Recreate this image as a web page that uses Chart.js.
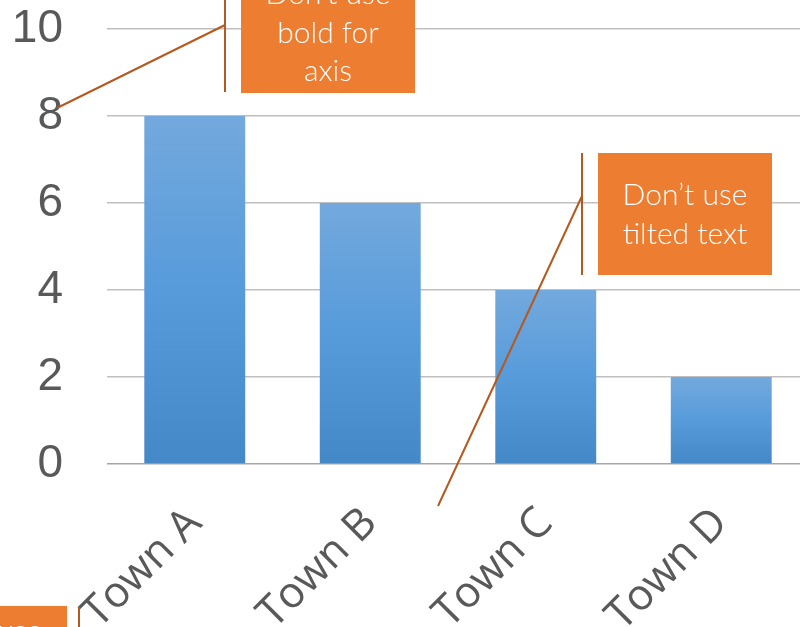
<!DOCTYPE html>
<html>
<head>
<meta charset="utf-8">
<script src="https://cdn.jsdelivr.net/npm/chart.js@4/dist/chart.umd.min.js"></script>
<style>
  html, body { margin: 0; padding: 0; overflow: hidden; background: #fff; width: 800px; height: 627px; }
  #wrap { position: absolute; left: 0; top: -60px; width: 830px; height: 760px; }
</style>
</head>
<body>
<div id="wrap"><canvas id="c" width="830" height="760"></canvas></div>
<script>
// Town values
const towns = ['Town A', 'Town B', 'Town C', 'Town D'];
const values = [8, 6, 4, 2];
const yTicks = [0, 2, 4, 6, 8, 10];

// Callout notes (canvas shifted up by SHIFT so page y = canvas y - SHIFT)
const SHIFT = 60;
const notes = [
  { lines: ['Don\u2019t use', 'bold for', 'axis'], box: [241, -40, 415, 93], baseline: 4,
    bar: [225, -40, 225, 92], leader: [225, 25, 57, 108] },
  { lines: ['Don\u2019t use', 'tilted text'], box: [598, 153, 772, 275], baseline: 205,
    bar: [582, 153, 582, 275], leader: [582, 196, 438, 506] },
  { lines: ['Don\u2019t use', 'lines'], box: [-107, 606, 67, 728], baseline: 641,
    bar: [79, 607, 79, 728], leader: null }
];

const NOTE_FONT = '300 30px Lato, "Open Sans", sans-serif';
const AXIS_FONT = '"Liberation Sans", Arial, sans-serif';
const CAT_FONT = '"Open Sans", "Liberation Sans", sans-serif';

function barGradient(ctx) {
  const chart = ctx.chart;
  if (!chart.chartArea || ctx.dataIndex === undefined) return '#5B9BD5';
  const y = chart.scales.y;
  const top = y.getPixelForValue(values[ctx.dataIndex]);
  const bottom = y.getPixelForValue(0);
  const g = chart.ctx.createLinearGradient(0, top, 0, bottom);
  g.addColorStop(0, '#73A9DD');
  g.addColorStop(0.5, '#579BDB');
  g.addColorStop(1, '#4588C7');
  return g;
}

const calloutPlugin = {
  id: 'callouts',
  afterDraw(chart) {
    const c = chart.ctx;
    c.save();
    notes.forEach(n => {
      const [x0, y0, x1, y1] = n.box;
      c.fillStyle = '#ED7D31';
      c.fillRect(x0, y0 + SHIFT, x1 - x0, y1 - y0);
      c.fillStyle = '#FFFFFF';
      c.font = NOTE_FONT;
      c.textAlign = 'center';
      c.textBaseline = 'alphabetic';
      n.lines.forEach((t, i) => c.fillText(t, (x0 + x1) / 2, n.baseline + i * 38.5 + SHIFT));
      c.strokeStyle = '#B4591F';
      c.lineWidth = 2;
      c.beginPath();
      c.moveTo(n.bar[0], n.bar[1] + SHIFT);
      c.lineTo(n.bar[2], n.bar[3] + SHIFT);
      if (n.leader) {
        c.moveTo(n.leader[0], n.leader[1] + SHIFT);
        c.lineTo(n.leader[2], n.leader[3] + SHIFT);
      }
      c.stroke();
    });
    c.restore();
  }
};

new Chart(document.getElementById('c'), {
  type: 'bar',
  data: {
    labels: towns,
    datasets: [{
      data: values,
      backgroundColor: barGradient,
      borderWidth: 0,
      categoryPercentage: 1,
      barPercentage: 0.575
    }]
  },
  options: {
    responsive: false,
    animation: false,
    devicePixelRatio: 1,
    layout: { padding: { top: SHIFT + 29, right: 21, left: 0, bottom: 0 } },
    plugins: { legend: { display: false }, tooltip: { enabled: false } },
    scales: {
      x: {
        grid: { display: false },
        border: { display: false },
        ticks: {
          color: '#595959',
          font: { family: CAT_FONT, size: 43, weight: 400 },
          minRotation: 45, maxRotation: 45, autoSkip: false, padding: 26
        },
        afterFit(s) { s.height = 760 - (SHIFT + 464); }
      },
      y: {
        min: 0, max: 10,
        afterBuildTicks(s) { s.ticks = yTicks.map(v => ({ value: v })); },
        grid: {
          drawTicks: false,
          lineWidth: 1.5,
          color: c => (c.tick && c.tick.value === 0 ? '#A6A6A6' : '#BFBFBF')
        },
        border: { display: false },
        ticks: {
          color: '#595959',
          font: { family: AXIS_FONT, size: 46 },
          padding: 44
        },
        afterFit(s) { s.width = 107; }
      }
    }
  },
  plugins: [calloutPlugin]
});
</script>
</body>
</html>
